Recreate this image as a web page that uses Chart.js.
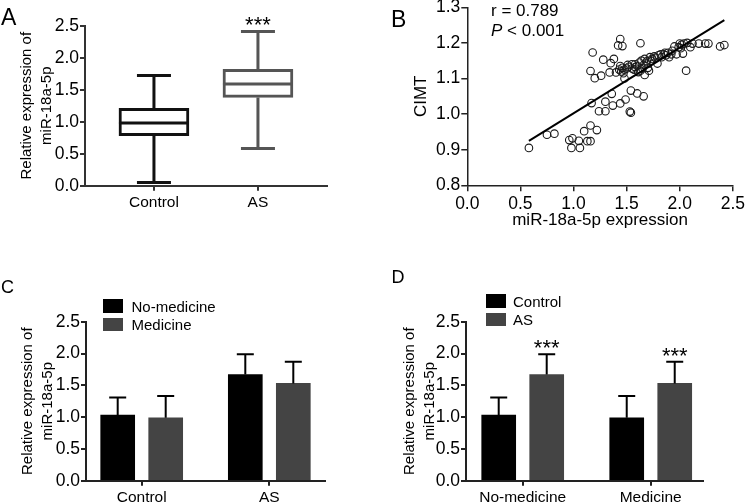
<!DOCTYPE html>
<html>
<head>
<meta charset="utf-8">
<script src="https://cdn.jsdelivr.net/npm/chart.js"></script>
<style>
  html, body { margin: 0; padding: 0; background: #fff; }
  body { position: relative; width: 747px; height: 502px; overflow: hidden;
         font-family: "Liberation Sans", Arial, Helvetica, sans-serif; color: #000; }
  .panel { position: absolute; }
  canvas { display: block; }
  .txt { position: absolute; white-space: nowrap; line-height: 1; color: #000; }
  .sw { position: absolute; }
</style>
</head>
<body>
<div class="panel" style="left:0;top:0;"><canvas id="chartA" width="360" height="250"></canvas></div>
<div class="panel" style="left:360px;top:-20px;"><canvas id="chartB" width="387" height="270"></canvas></div>
<div class="panel" style="left:0;top:250px;"><canvas id="chartC" width="380" height="252"></canvas></div>
<div class="panel" style="left:380px;top:250px;"><canvas id="chartD" width="367" height="252"></canvas></div>

<div class="txt" style="left:1px;top:5.5px;font-size:23px;">A</div>
<div class="txt" style="left:391px;top:7.5px;font-size:23px;">B</div>
<div class="txt" style="left:1px;top:278px;font-size:18px;">C</div>
<div class="txt" style="left:391.5px;top:268px;font-size:18px;">D</div>

<div class="txt" style="left:491px;top:2.3px;font-size:17px;">r = 0.789</div>
<div class="txt" style="left:491px;top:21.6px;font-size:17px;"><i>P</i> &lt; 0.001</div>

<div class="sw" style="left:103px;top:299px;width:20px;height:13.5px;background:#000;"></div>
<div class="txt" style="left:131.5px;top:298.5px;font-size:15px;">No-medicine</div>
<div class="sw" style="left:103px;top:317.7px;width:20px;height:13.5px;background:#444;"></div>
<div class="txt" style="left:131.5px;top:317px;font-size:15px;">Medicine</div>

<div class="sw" style="left:486px;top:294px;width:19.5px;height:13.5px;background:#000;"></div>
<div class="txt" style="left:513px;top:293.5px;font-size:15px;">Control</div>
<div class="sw" style="left:486px;top:312.7px;width:19.5px;height:13.5px;background:#444;"></div>
<div class="txt" style="left:513px;top:312px;font-size:15px;">AS</div>

<script>
// ---------------- DATA ----------------
// Panel A: box plot
const boxCategories = ['Control', 'AS'];
const boxMin    = [0.05, 0.58];
const boxQ1     = [0.78, 1.38];
const boxMedian = [0.98, 1.59];
const boxQ3     = [1.21, 1.82];
const boxMax    = [1.72, 2.41];
const boxSig    = ['', '***'];
const boxColors = ['#111111', '#555555'];

// Panel B: scatter miR-18a-5p expression vs CIMT
const cimtExpr = [0.58,0.75,0.82,0.96,0.99,0.98,1.05,1.06,1.10,1.13,1.16,1.16,1.22,
  1.17,1.24,1.30,1.30,1.36,1.37,1.44,1.49,1.54,1.53,1.54,1.60,1.66,
  1.16,1.20,1.18,1.26,1.28,1.35,1.38,1.34,1.40,1.44,1.42,1.46,1.63,1.67,
  1.43,1.45,1.46,1.47,1.48,1.44,1.50,1.52,1.55,1.57,1.58,1.60,1.62,1.63,1.64,1.66,1.67,1.69,1.70,1.71,
  1.72,1.74,1.76,1.79,1.80,1.83,1.85,1.87,1.89,1.90,1.93,1.95,1.97,2.00,2.01,2.03,2.04,2.06,2.07,2.10,
  2.12,2.18,2.24,2.27,2.38,2.42,1.55,1.58,1.61,1.65,1.68,1.73,1.77,1.82,1.86,1.92,1.99,2.02,1.48,1.51];
const cimtValue = [0.905,0.942,0.945,0.927,0.932,0.905,0.925,0.905,0.952,0.924,0.924,0.968,0.955,
  1.031,1.008,1.008,1.035,1.057,1.024,1.030,1.041,1.066,1.007,1.004,1.058,1.050,
  1.121,1.101,1.173,1.108,1.153,1.143,1.155,1.117,1.117,1.211,1.193,1.191,1.199,1.110,
  1.125,1.120,1.130,1.115,1.100,1.135,1.128,1.133,1.128,1.125,1.140,1.135,1.145,1.122,1.150,1.138,1.155,1.148,1.130,1.122,
  1.160,1.155,1.162,1.142,1.165,1.160,1.168,1.165,1.172,1.160,1.178,1.190,1.168,1.198,1.185,1.170,1.198,1.122,1.200,1.188,
  1.198,1.198,1.198,1.198,1.190,1.194,1.140,1.132,1.118,1.128,1.142,1.150,1.158,1.168,1.172,1.168,1.188,1.195,1.125,1.138];
const fitLineX = [0.58, 2.42];
const fitLineY = [0.925, 1.264];

// Panel C: grouped by Control / AS
const cCategories = ['Control', 'AS'];
const cSeries     = ['No-medicine', 'Medicine'];
const cNoMedicine    = [1.03, 1.67];
const cNoMedicineErr = [1.31, 1.99];
const cMedicine      = [0.99, 1.53];
const cMedicineErr   = [1.33, 1.87];

// Panel D: grouped by No-medicine / Medicine
const dCategories = ['No-medicine', 'Medicine'];
const dSeries     = ['Control', 'AS'];
const dControl    = [1.03, 0.99];
const dControlErr = [1.31, 1.33];
const dAS         = [1.67, 1.53];
const dASErr      = [1.99, 1.87];
const dSig        = ['***', '***'];

const seriesColors = ['#000000', '#444444'];
const yTitleLines = ['Relative expression of', 'miR-18a-5p'];

// ---------------- DEFAULTS ----------------
Chart.defaults.font.family = '"Liberation Sans", Arial, Helvetica, sans-serif';
Chart.defaults.color = '#000';
Chart.defaults.animation = false;
Chart.defaults.plugins.legend.display = false;
Chart.defaults.plugins.tooltip.enabled = false;

function yAxis(opts) {
  return {
    type: 'linear', position: 'left', min: opts.min, max: opts.max, bounds: 'data',
    ticks: { stepSize: opts.step, font: { size: 17.5 }, padding: opts.tickPad ?? 1,
             callback: v => Number(v).toFixed(1) },
    grid: { drawOnChartArea: false, drawTicks: true, tickLength: opts.tickLen ?? 5,
            color: opts.color, lineWidth: opts.lw },
    border: { color: opts.color, width: opts.lw },
    title: { display: true, text: opts.title, font: { size: opts.titleSize, lineHeight: 20 / opts.titleSize },
             padding: { top: opts.titlePad, bottom: 0 } },
    afterFit: s => { s.width = opts.width; }
  };
}
function catXAxis(cats, min, max, height, color, lw) {
  return {
    type: 'linear', position: 'bottom', min: min, max: max, bounds: 'data', offset: false,
    afterBuildTicks: a => { a.ticks = cats.map((c, i) => ({ value: i })); },
    ticks: { autoSkip: false, maxRotation: 0, font: { size: 15.5 }, padding: 3,
             callback: (v, i) => cats[i] },
    grid: { offset: false, drawOnChartArea: false, drawTicks: true, tickLength: 5, color: color, lineWidth: lw },
    border: { color: color, width: lw },
    afterFit: s => { s.height = height; }
  };
}

// ---------------- PANEL A: box plot ----------------
const boxPlugin = {
  id: 'boxWhiskers',
  afterDatasetsDraw(chart) {
    const ctx = chart.ctx, xs = chart.scales.x, ys = chart.scales.y;
    const meta = chart.getDatasetMeta(0);
    ctx.save();
    ctx.lineWidth = 3;
    boxCategories.forEach((c, i) => {
      const bar = meta.data[i];
      const cx = xs.getPixelForValue(i);
      const half = bar.width / 2;
      const cap = 17;
      ctx.strokeStyle = boxColors[i];
      ctx.beginPath();
      ctx.moveTo(cx - half, ys.getPixelForValue(boxMedian[i]));
      ctx.lineTo(cx + half, ys.getPixelForValue(boxMedian[i]));
      ctx.moveTo(cx, ys.getPixelForValue(boxQ3[i]));
      ctx.lineTo(cx, ys.getPixelForValue(boxMax[i]));
      ctx.moveTo(cx - cap, ys.getPixelForValue(boxMax[i]));
      ctx.lineTo(cx + cap, ys.getPixelForValue(boxMax[i]));
      ctx.moveTo(cx, ys.getPixelForValue(boxQ1[i]));
      ctx.lineTo(cx, ys.getPixelForValue(boxMin[i]));
      ctx.moveTo(cx - cap, ys.getPixelForValue(boxMin[i]));
      ctx.lineTo(cx + cap, ys.getPixelForValue(boxMin[i]));
      ctx.stroke();
      if (boxSig[i]) {
        ctx.fillStyle = '#000';
        ctx.font = '22px "Liberation Sans", Arial, sans-serif';
        ctx.textAlign = 'center';
        ctx.textBaseline = 'alphabetic';
        ctx.fillText(boxSig[i], cx, ys.getPixelForValue(boxMax[i]) + 1);
      }
    });
    ctx.restore();
  }
};

new Chart(document.getElementById('chartA'), {
  type: 'bar',
  data: {
    datasets: [{
      label: 'box',
      data: boxCategories.map((c, i) => ({ x: i, y: [boxQ1[i], boxQ3[i]] })),
      backgroundColor: '#ffffff',
      borderColor: boxColors,
      borderWidth: 3,
      borderSkipped: false,
      barThickness: 70
    }]
  },
  options: {
    responsive: false,
    layout: { padding: { left: 0, top: 25.7, right: 33.3, bottom: 14.3 } },
    scales: {
      x: catXAxis(boxCategories, -0.663, 1.661, 50, '#333', 2),
      y: yAxis({ min: 0, max: 2.5, step: 0.5, color: '#333', lw: 2, width: 85,
                 title: yTitleLines, titleSize: 15, titlePad: 16.7 })
    }
  },
  plugins: [boxPlugin]
});

// ---------------- PANEL B: scatter ----------------
new Chart(document.getElementById('chartB'), {
  type: 'scatter',
  data: {
    datasets: [
      {
        type: 'line', label: 'fit', order: 0,
        data: fitLineX.map((x, i) => ({ x: x, y: fitLineY[i] })),
        borderColor: '#000', borderWidth: 2, pointRadius: 0, showLine: true, fill: false
      },
      {
        label: 'CIMT', order: 1,
        data: cimtExpr.map((x, i) => ({ x: x, y: cimtValue[i] })),
        pointRadius: 3.8, pointBorderWidth: 1.1,
        borderColor: '#1a1a1a', backgroundColor: 'rgba(255,255,255,0)'
      }
    ]
  },
  options: {
    responsive: false,
    layout: { padding: { left: 0, top: 27.3, right: 13, bottom: 14.7 } },
    scales: {
      x: {
        type: 'linear', min: 0, max: 2.5, bounds: 'data',
        ticks: { stepSize: 0.5, font: { size: 17.5 }, padding: 2, callback: v => Number(v).toFixed(1) },
        grid: { drawOnChartArea: false, tickLength: 6, color: '#222', lineWidth: 1.5 },
        border: { color: '#222', width: 1.5 },
        title: { display: true, text: 'miR-18a-5p expression', font: { size: 17, lineHeight: 20 / 17 },
                 padding: { top: 0, bottom: 5.3 } },
        afterFit: s => { s.height = 50; }
      },
      y: yAxis({ min: 0.8, max: 1.3, step: 0.1, color: '#222', lw: 1.5, width: 107.3, tickLen: 6,
                 title: 'CIMT', titleSize: 17, titlePad: 51.7 })
    }
  }
});

// ---------------- PANELS C & D: bars with error bars ----------------
function errorBarPlugin(errs, sigs) {
  return {
    id: 'errorBars',
    afterDatasetsDraw(chart) {
      const ctx = chart.ctx, ys = chart.scales.y;
      ctx.save();
      ctx.strokeStyle = '#000';
      ctx.lineWidth = 2;
      chart.data.datasets.forEach((ds, di) => {
        const meta = chart.getDatasetMeta(di);
        meta.data.forEach((bar, i) => {
          const top = ys.getPixelForValue(errs[di][i]);
          ctx.beginPath();
          ctx.moveTo(bar.x, bar.y);
          ctx.lineTo(bar.x, top);
          ctx.moveTo(bar.x - 8.5, top);
          ctx.lineTo(bar.x + 8.5, top);
          ctx.stroke();
          if (sigs && sigs[di] && sigs[di][i]) {
            ctx.fillStyle = '#000';
            ctx.font = '22px "Liberation Sans", Arial, sans-serif';
            ctx.textAlign = 'center';
            ctx.textBaseline = 'alphabetic';
            ctx.fillText(sigs[di][i], bar.x, top + 1);
          }
        });
      });
      ctx.restore();
    }
  };
}

function barPanel(id, cats, series, values, errs, sigs, xMin, xMax, padRight, titlePad) {
  new Chart(document.getElementById(id), {
    type: 'bar',
    data: {
      datasets: series.map((s, k) => ({
        label: s,
        data: cats.map((c, i) => ({ x: i, y: values[k][i] })),
        backgroundColor: seriesColors[k],
        borderWidth: 0,
        barThickness: 48,
        maxBarThickness: 34
      }))
    },
    options: {
      responsive: false,
      layout: { padding: { left: 0, top: 71.7, right: padRight, bottom: 0 } },
      scales: {
        x: catXAxis(cats, xMin, xMax, 21.3, '#222', 2),
        y: yAxis({ min: 0, max: 2.5, step: 0.5, color: '#222', lw: 2, width: 86,
                   title: yTitleLines, titleSize: 15, titlePad: titlePad })
      }
    },
    plugins: [errorBarPlugin(errs, sigs)]
  });
}

barPanel('chartC', cCategories, cSeries, [cNoMedicine, cMedicine], [cNoMedicineErr, cMedicineErr],
         null, -0.4365, 1.4365, 55, 18.3);
barPanel('chartD', dCategories, dSeries, [dControl, dAS], [dControlErr, dASErr],
         [null, dSig], -0.443, 1.406, 44.3, 20);
</script>
</body>
</html>
